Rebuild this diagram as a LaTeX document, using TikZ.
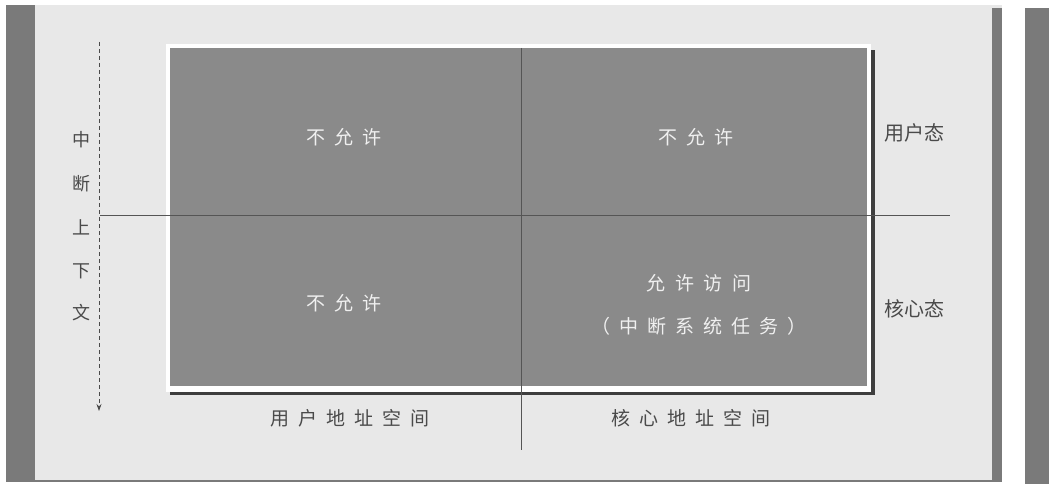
\documentclass[tikz,border=0pt]{standalone}
\usepackage{fontspec}
\newfontfamily\cjk{Noto Sans CJK SC}
\usetikzlibrary{arrows.meta}
\definecolor{panelc}{HTML}{E8E8E8}
\definecolor{barc}{HTML}{7A7A7A}
\definecolor{mainc}{HTML}{8A8A8A}
\definecolor{shadowc}{HTML}{3E3E3E}
\definecolor{linec}{HTML}{555555}
\definecolor{outtext}{HTML}{4A4A4A}
\definecolor{intext}{HTML}{F0F0F0}
\newcommand\gp[1]{\hspace{#1pt}}
\tikzset{
  txtbase/.style={inner sep=0pt, outer sep=0pt, font=\cjk},
  inlabel/.style={txtbase, text=intext, font=\cjk\fontsize{19}{22}\selectfont},
  outlabel/.style={txtbase, text=outtext, font=\cjk\fontsize{19}{22}\selectfont},
  sidelabel/.style={txtbase, text=outtext, font=\cjk\fontsize{20}{22}\selectfont},
  vlabel/.style={txtbase, text=outtext, font=\cjk\fontsize{18}{20}\selectfont},
  divider/.style={draw=linec, line width=0.8pt},
  ctxarrow/.style={draw=outtext, line width=0.8pt, dash pattern=on 4pt off 3pt, -{Stealth[length=7pt,width=5pt]}}
}
\begin{document}
\begin{tikzpicture}[x=1pt,y=-1pt]
\useasboundingbox (0,0) rectangle (1049,484);
% page background and bars
\fill[white] (0,0) rectangle (1049,484);
\fill[panelc] (6,5) rectangle (1002,482);
\fill[barc] (6,5) rectangle (35,482);
\fill[barc] (992,8) rectangle (1002,482);
\fill[barc] (1025,8) rectangle (1049,484);
\draw[barc, line width=2pt] (35,481) -- (992,481);
% main block with bevel
\fill[shadowc] (170,50) rectangle (875,395);
\fill[white] (166,44) rectangle (871,392);
\fill[mainc] (170,48) rectangle (867,386);
% dividers
\coordinate (vtop) at (521,48);
\coordinate (vbot) at (521,450);
\coordinate (hleft) at (100,215);
\coordinate (hright) at (950,215);
\draw[divider] (vtop) -- (vbot);
\draw[divider] (hleft) -- (hright);
% interrupt context arrow
\coordinate (atop) at (99,42);
\coordinate (abot) at (99,411);
\draw[ctxarrow] (atop) -- (abot);
% vertical label
\node[vlabel] (v1) at (81,140) {中};
\node[vlabel] (v2) at (81,184) {断};
\node[vlabel] (v3) at (81,227) {上};
\node[vlabel] (v4) at (81,271) {下};
\node[vlabel] (v5) at (81,313) {文};
% quadrant labels
\node[inlabel] (q1) at (344,137) {不\gp{9}允\gp{9}许};
\node[inlabel] (q2) at (696,137) {不\gp{9}允\gp{9}许};
\node[inlabel] (q3) at (344,303) {不\gp{9}允\gp{9}许};
\node[inlabel] (q4a) at (699,283) {允\gp{10}许\gp{10}访\gp{10}问};
\node[inlabel] (q4b) at (699,326) {（\gp{9}中\gp{9}断\gp{9}系\gp{9}统\gp{9}任\gp{9}务\gp{9}）};
% side labels
\node[sidelabel] (us) at (914,133) {用户态};
\node[sidelabel] (ks) at (914,309) {核心态};
% bottom labels
\node[outlabel] (ua) at (350,418) {用\gp{9}户\gp{9}地\gp{9}址\gp{9}空\gp{9}间};
\node[outlabel] (ka) at (691,418) {核\gp{9}心\gp{9}地\gp{9}址\gp{9}空\gp{9}间};
\end{tikzpicture}
\end{document}
